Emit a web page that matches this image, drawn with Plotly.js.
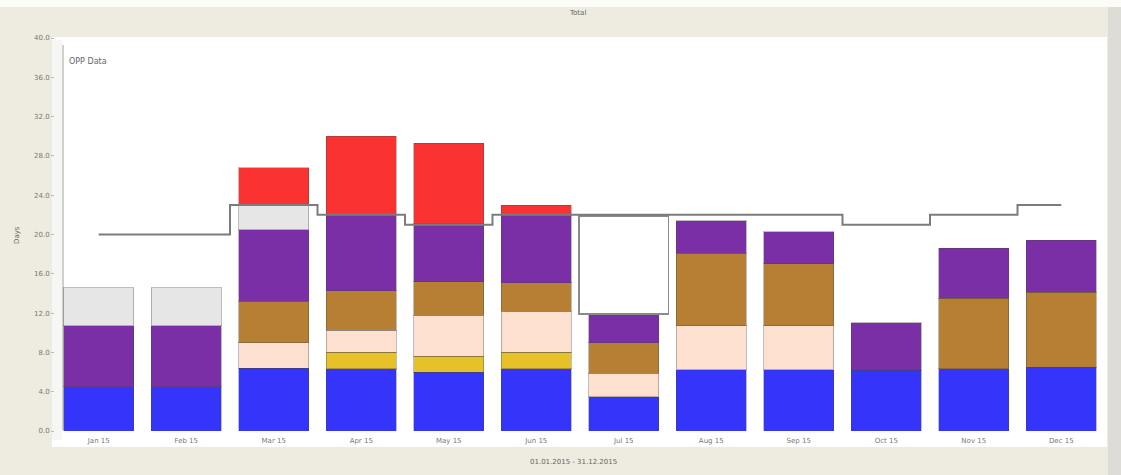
<!DOCTYPE html>
<html>
<head>
<meta charset="utf-8">
<script src="https://cdn.plot.ly/plotly-3.0.1.min.js"></script>
<style>html,body{margin:0;padding:0;background:#eeebe0;}#chart{width:1121px;height:475px;}</style>
</head>
<body>
<div id="chart"></div>
<script>
const months = ["Jan 15","Feb 15","Mar 15","Apr 15","May 15","Jun 15","Jul 15","Aug 15","Sep 15","Oct 15","Nov 15","Dec 15"];
const yTicks = [0,4,8,12,16,20,24,28,32,36,40];
const blueVals   = [4.5,4.5,6.4,6.35,6.0,6.35,3.5,6.25,6.25,6.2,6.35,6.5];
const yellowVals = [null,null,null,1.65,1.6,1.65,null,null,null,null,null,null];
const peachVals  = [null,null,2.6,2.25,4.2,4.2,2.4,4.45,4.45,null,null,null];
const brownVals  = [null,null,4.2,4.05,3.4,2.9,3.1,7.4,6.3,null,7.15,7.6];
const purpleVals = [6.2,6.2,7.3,7.7,5.9,6.9,2.9,3.3,3.3,4.8,5.1,5.3];
const grayVals   = [3.9,3.9,2.5,null,null,null,null,null,null,null,null,null];
const whiteVals  = [null,null,null,null,null,null,10.0,null,null,null,null,null];
const redVals    = [null,null,3.8,8.0,8.2,1.0,null,null,null,null,null,null];
const oppData    = [20,20,23,22,21,22,22,22,22,21,22,23];

const edge = {color:'rgba(70,70,70,0.35)', width:1};
function seg(name, vals, color, extra) {
  return Object.assign({type:'bar', name:name, x:months, y:vals,
    marker:{color:color, line:edge}, hoverinfo:'skip'}, extra||{});
}
const traces = [
  seg('blue', blueVals, '#3434fb'),
  seg('yellow', yellowVals, '#e6c12a'),
  seg('peach', peachVals, '#fde0d0'),
  seg('brown', brownVals, '#b67f34'),
  seg('purple', purpleVals, '#7a2fa6'),
  seg('gray', grayVals, '#e6e6e6'),
  seg('white', whiteVals, '#ffffff', {width: months.map(()=>1.02), marker:{color:'#ffffff', line:{color:'#8a8a8a', width:1.5}}}),
  seg('red', redVals, '#fb3232'),
  {type:'scatter', mode:'lines', name:'OPP Data', x:months, y:oppData,
   line:{shape:'hvh', color:'#7c7c7c', width:2}, hoverinfo:'skip'}
];

const L = 55, R = 16, T = 38, B = 44, W = 1121, H = 475;
const pw = W - L - R, ph = H - T - B;
const fx = px => (px - L) / pw;
const fy = py => (H - B - py) / ph;
const font = {family:'DejaVu Sans, Verdana, sans-serif', size:7, color:'#555'};

const layout = {
  width:W, height:H,
  margin:{l:L, r:R, t:T, b:B, pad:0},
  paper_bgcolor:'#eeebe0',
  plot_bgcolor:'rgba(0,0,0,0)',
  barmode:'stack',
  bargap:0.2,
  showlegend:false,
  font:font,
  xaxis:{type:'category', range:[-0.5,11.5], showgrid:false, zeroline:false, showline:false,
         ticks:'', ticklabelstandoff:4, tickfont:{family:font.family, size:7, color:'#777'}, fixedrange:true},
  yaxis:{range:[0,40], tickvals:yTicks, ticktext:yTicks.map(v=>v.toFixed(1)), showgrid:false, zeroline:false,
         showline:false, ticks:'outside', ticklen:3, tickcolor:'#bbb',
         tickfont:{family:font.family, size:7, color:'#777'}, fixedrange:true},
  shapes:[
    {type:'rect', xref:'paper', yref:'paper', x0:fx(52), x1:fx(1107), y0:fy(447), y1:fy(37), fillcolor:'#ffffff', line:{width:0}, layer:'below'},
    {type:'rect', xref:'paper', yref:'paper', x0:fx(52), x1:fx(62), y0:fy(440), y1:fy(40), fillcolor:'#f6f6f4', line:{width:0}, layer:'below'},
    {type:'rect', xref:'paper', yref:'paper', x0:fx(0), x1:fx(1121), y0:fy(7), y1:fy(0), fillcolor:'#fbfbf8', line:{width:0}, layer:'below'},
    {type:'rect', xref:'paper', yref:'paper', x0:fx(1108), x1:fx(1121), y0:fy(475), y1:fy(7), fillcolor:'#dedcd6', line:{width:0}, layer:'below'},
    {type:'line', xref:'paper', yref:'paper', x0:fx(63), x1:fx(63), y0:fy(430), y1:fy(45), line:{color:'#a0a0a0', width:1}, layer:'below'}
  ],
  annotations:[
    {text:'Total', xref:'paper', yref:'paper', x:fx(577), y:fy(13), showarrow:false, xanchor:'center', yanchor:'middle', font:{family:font.family, size:7, color:'#666'}},
    {text:'OPP Data', xref:'paper', yref:'paper', x:fx(67), y:fy(61), showarrow:false, xanchor:'left', yanchor:'middle', font:{family:font.family, size:8, color:'#666'}},
    {text:'Days', xref:'paper', yref:'paper', x:fx(17), y:fy(235), showarrow:false, textangle:-90, xanchor:'center', yanchor:'middle', font:{family:font.family, size:7, color:'#666'}},
    {text:'01.01.2015 - 31.12.2015', xref:'paper', yref:'paper', x:fx(573), y:fy(462), showarrow:false, xanchor:'center', yanchor:'middle', font:{family:font.family, size:7, color:'#666'}}
  ]
};
Plotly.newPlot('chart', traces, layout, {displayModeBar:false, staticPlot:true});
</script>
</body>
</html>
